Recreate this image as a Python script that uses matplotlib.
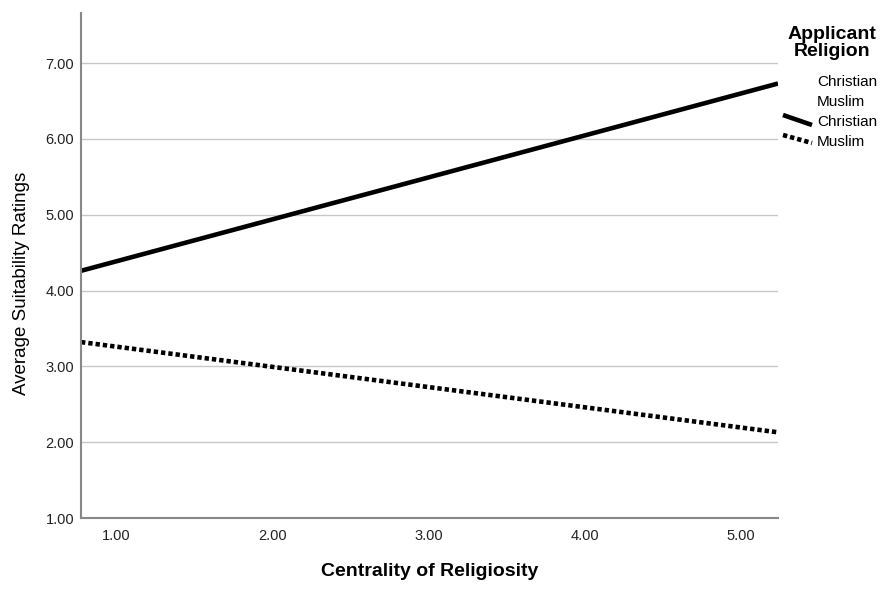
import numpy as np
import matplotlib
matplotlib.use('Agg')
import matplotlib.pyplot as plt
from matplotlib.lines import Line2D

plt.rcParams['font.family'] = ['Liberation Sans', 'DejaVu Sans']

# Data (fit lines read at the axis ends)
x_ends = [0.776, 5.237]
christian = [4.26, 6.73]
muslim = [3.32, 2.13]
x_ticks = [1.0, 2.0, 3.0, 4.0, 5.0]
y_ticks = [1.0, 2.0, 3.0, 4.0, 5.0, 6.0, 7.0]
legend_labels = ['Christian', 'Muslim', 'Christian', 'Muslim']

fig = plt.figure(figsize=(8.9, 5.92), dpi=100)
ax = fig.add_axes([81/890, 1 - 518/592, (778-81)/890, (518-13)/592])

ax.plot(x_ends, christian, color='black', lw=3.3, solid_capstyle='butt')
ax.plot(x_ends, muslim, color='black', lw=3.3, linestyle=(0, (0.95, 0.65)), dash_capstyle='butt')

ax.set_xlim(x_ends[0], x_ends[1])
ax.set_ylim(1.0, 7.66)
ax.set_xticks(x_ticks)
ax.set_yticks(y_ticks)
ax.set_xticklabels(['%.2f' % v for v in x_ticks], fontsize=10.5, color='#222222')
ax.set_yticklabels(['%.2f' % v for v in y_ticks], fontsize=10.5, color='#222222')
ax.tick_params(axis='y', length=0, pad=5)
ax.tick_params(axis='x', length=0, pad=8)
ax.grid(axis='y', color='#c8c8c8', lw=1.0)
ax.set_axisbelow(True)
for s in ['top', 'right']:
    ax.spines[s].set_visible(False)
for s in ['left', 'bottom']:
    ax.spines[s].set_color('#888888')
    ax.spines[s].set_linewidth(1.5)

fig.text(429.5/890, 1 - 571/592, 'Centrality of Religiosity', ha='center', va='center',
         fontsize=14, fontweight='bold')
fig.text(22/890, 1 - 283/592, 'Average Suitability Ratings', ha='center', va='center',
         rotation=90, fontsize=13.5)

# legend (SPSS-style)
fig.text(832/890, 1 - 43/592, 'Applicant\nReligion', ha='center', va='center',
         fontsize=14, fontweight='bold', linespacing=1.05)
label_y = [82, 102, 122, 142]
for lab, yy in zip(legend_labels, label_y):
    fig.text(817/890, 1 - yy/592, lab, ha='left', va='center', fontsize=11)
fig.add_artist(Line2D([783/890, 812/890], [1 - 115/592, 1 - 125/592], color='black',
                      lw=3.3, transform=fig.transFigure, solid_capstyle='butt'))
fig.add_artist(Line2D([783/890, 812/890], [1 - 135/592, 1 - 143/592], color='black',
                      lw=3.3, linestyle=(0, (0.95, 0.65)), transform=fig.transFigure,
                      dash_capstyle='butt'))

fig.savefig('out.png', dpi=100)
